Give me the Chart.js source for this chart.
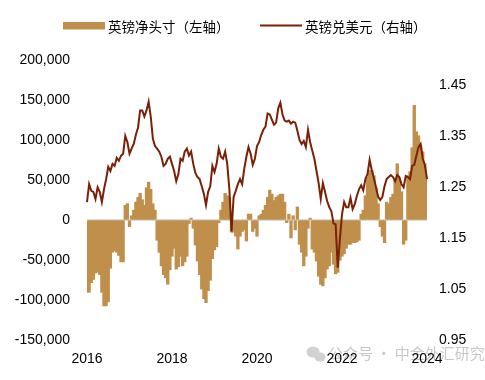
<!DOCTYPE html>
<html>
<head>
<meta charset="utf-8">
<script src="https://cdn.jsdelivr.net/npm/chart.js@4/dist/chart.umd.min.js"></script>
<style>
html,body{margin:0;padding:0;background:#fff;}
#wrap{width:485px;height:380px;position:relative;}
</style>
</head>
<body>
<div id="wrap"><canvas id="c" width="485" height="380"></canvas></div>
<script>
// x-axis tick labels (shown every 40 points)
const yearLabels = ['2016', '2018', '2020', '2022', '2024'];
const labelEvery = 40;

// GBP net speculative position (contracts), left axis
const netPosition = [
  -90000,-90000,-78000,-74000,-66000,-65000,-68000,-90000,-107000,-107000,
  -102000,-60000,-40000,-38000,-40000,-44000,-52000,-52000,18000,20000,
  -8000,5000,12000,22000,28000,33000,25000,18000,40000,47000,
  38000,20000,12000,-25000,-40000,-57000,-68000,-72000,-80000,-62000,
  -45000,-35000,-61000,-58000,-45000,-57000,-52000,-45000,-4000,2000,
  -10000,-31000,-51000,-68000,-86000,-98000,-103000,-88000,-75000,-48000,
  -37000,-33000,-3000,12000,22000,33000,30000,27000,-15000,-15000,
  -20000,-36000,-20000,-14000,-12000,-26000,7000,7000,-14000,-10000,
  -20000,5000,7000,12000,18000,28000,37000,32000,24000,28000,
  30000,32000,32000,22000,-3000,7000,-22000,5000,-12000,16000,
  -30000,-40000,-57000,-45000,-10000,2000,-36000,-40000,-51000,-70000,
  -80000,-82000,-72000,-61000,-57000,-40000,-55000,-67000,-65000,-50000,
  -45000,-42000,-35000,-30000,-30000,-28000,-28000,-27000,-25000,7000,
  12000,30000,53000,62000,62000,55000,40000,20000,-8000,-20000,
  -28000,22000,20000,28000,32000,50000,70000,50000,35000,-30000,
  -25000,55000,60000,90000,143000,110000,105000,92000,85000,70000,
  60000
];

// GBP/USD, right axis
const gbpUsd = [
  1.221,1.256,1.243,1.241,1.227,1.250,1.241,1.221,1.246,1.266,
  1.290,1.282,1.296,1.292,1.308,1.302,1.312,1.316,1.351,1.339,
  1.316,1.326,1.335,1.353,1.367,1.401,1.401,1.389,1.401,1.418,
  1.389,1.345,1.331,1.326,1.320,1.310,1.292,1.296,1.306,1.310,
  1.296,1.282,1.262,1.276,1.306,1.302,1.320,1.326,1.312,1.320,
  1.296,1.278,1.270,1.266,1.252,1.237,1.215,1.241,1.252,1.292,
  1.280,1.296,1.326,1.310,1.306,1.320,1.296,1.246,1.163,1.231,
  1.243,1.256,1.266,1.256,1.286,1.310,1.329,1.316,1.294,1.306,
  1.331,1.339,1.353,1.363,1.369,1.395,1.393,1.383,1.373,1.377,
  1.405,1.416,1.393,1.381,1.379,1.381,1.375,1.379,1.377,1.361,
  1.343,1.335,1.341,1.329,1.363,1.339,1.322,1.306,1.282,1.258,
  1.227,1.258,1.241,1.223,1.211,1.203,1.179,1.177,1.092,1.148,
  1.197,1.221,1.211,1.211,1.229,1.207,1.217,1.233,1.246,1.254,
  1.244,1.266,1.276,1.304,1.284,1.268,1.250,1.231,1.225,1.231,
  1.252,1.266,1.270,1.274,1.270,1.262,1.274,1.270,1.256,1.250,
  1.272,1.270,1.266,1.292,1.294,1.312,1.329,1.335,1.306,1.294,
  1.266
];

const leftTicks = [-150000, -100000, -50000, 0, 50000, 100000, 150000, 200000];
const rightTicks = [0.95, 1.05, 1.15, 1.25, 1.35, 1.45];

const seriesNames = ['英镑净头寸（左轴）', '英镑兑美元（右轴）'];
const watermarkText = '公众号 · 中金外汇研究';

const barColor = '#BF8F4B';
const lineColor = '#7A2006';

const labels = netPosition.map((_, i) => (i % labelEvery === 0 ? (yearLabels[i / labelEvery] || '') : ''));

const tickFont = { family: '"Liberation Sans", Arial, sans-serif', size: 14 };
const cjkFont = '"Noto Sans CJK SC", "Noto Sans", sans-serif';

const overlay = {
  id: 'overlay',
  beforeDraw(chart) {
    const c = chart.ctx;
    c.save();
    // watermark
    c.fillStyle = '#d2d2d2';
    c.beginPath(); c.ellipse(313, 352, 6.5, 5.5, 0, 0, Math.PI * 2); c.fill();
    c.beginPath(); c.ellipse(320, 357, 5.5, 4.5, 0, 0, Math.PI * 2); c.fill();
    c.fillStyle = '#c8c8c8';
    c.font = '15px ' + cjkFont;
    c.textBaseline = 'middle';
    c.textAlign = 'left';
    c.fillText(watermarkText, 328, 353);
    c.restore();
  },
  afterDraw(chart) {
    const c = chart.ctx;
    c.save();
    c.font = '13.5px ' + cjkFont;
    c.textBaseline = 'middle';
    c.textAlign = 'left';
    c.fillStyle = barColor;
    c.fillRect(63, 22, 42, 7.5);
    c.fillStyle = '#000';
    c.fillText(seriesNames[0], 108, 26.5);
    c.strokeStyle = lineColor;
    c.lineWidth = 2;
    c.beginPath(); c.moveTo(260, 25.5); c.lineTo(302, 25.5); c.stroke();
    c.fillText(seriesNames[1], 305, 26.5);
    c.restore();
  }
};

new Chart(document.getElementById('c'), {
  data: {
    labels: labels,
    datasets: [
      {
        type: 'bar', label: seriesNames[0], data: netPosition, yAxisID: 'y',
        backgroundColor: barColor, borderWidth: 0, inflateAmount: 0.6,
        barPercentage: 1, categoryPercentage: 1, order: 2
      },
      {
        type: 'line', label: seriesNames[1], data: gbpUsd, yAxisID: 'y1',
        borderColor: lineColor, borderWidth: 2, pointRadius: 0, tension: 0,
        fill: false, order: 1
      }
    ]
  },
  options: {
    responsive: false,
    animation: false,
    layout: { padding: { top: 60, bottom: 12, left: 0, right: 0 } },
    plugins: { legend: { display: false }, tooltip: { enabled: false } },
    scales: {
      x: {
        type: 'category', offset: false,
        grid: { display: false, drawTicks: false }, border: { display: false },
        afterFit: s => { s.height = 28; },
        ticks: {
          autoSkip: false, maxRotation: 0, minRotation: 0, padding: 11,
          font: tickFont, color: '#000',
          callback: function (v, i) { return labels[i]; }
        }
      },
      y: {
        position: 'left', min: -150000, max: 200000, z: 1,
        afterBuildTicks: s => { s.ticks = leftTicks.map(v => ({ value: v })); },
        afterFit: s => { s.width = 87; },
        ticks: {
          padding: 17, font: tickFont, color: '#000',
          callback: v => v.toLocaleString('en-US')
        },
        grid: {
          drawTicks: false, lineWidth: 2,
          color: ctx => (ctx.tick && ctx.tick.value === 0 ? '#d9d9d9' : 'rgba(0,0,0,0)')
        },
        border: { display: false }
      },
      y1: {
        position: 'right', min: 0.95, max: 1.5,
        afterBuildTicks: s => { s.ticks = rightTicks.map(v => ({ value: v })); },
        afterFit: s => { s.width = 58; },
        ticks: {
          padding: 12, font: tickFont, color: '#000',
          callback: v => Number(v).toFixed(2)
        },
        grid: { display: false, drawTicks: false },
        border: { display: false }
      }
    }
  },
  plugins: [overlay]
});
</script>
</body>
</html>
